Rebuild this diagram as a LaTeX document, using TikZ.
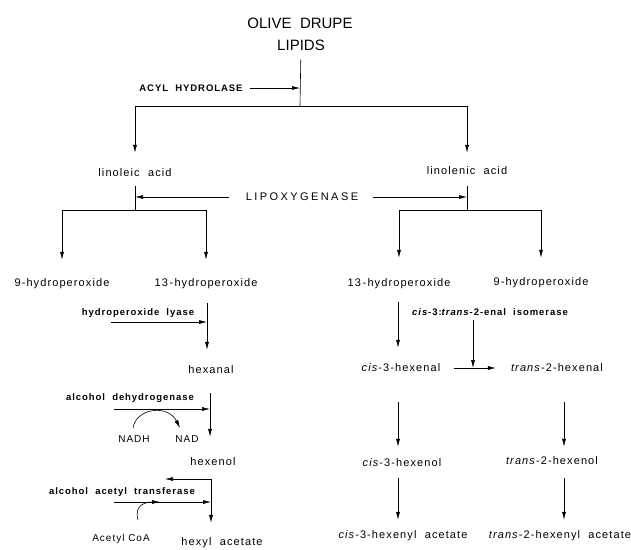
\documentclass[tikz,border=0pt]{standalone}
\usepackage{fontspec}
\setmainfont{Liberation Sans}
\newfontfamily\wide{Liberation Sans}[LetterSpace=10]
\newfontfamily\wider{Liberation Sans}[LetterSpace=22]
\usepackage{tikz}
\usetikzlibrary{arrows.meta}

\begin{document}
\begin{tikzpicture}[x=1pt,y=-1pt]
        \tikzset{txt/.style = {inner sep=0pt, text height=8pt, text depth=2pt, font=\wide\fontsize{11}{13}\selectfont}}
        \tikzset{enz/.style = {txt, font=\wide\bfseries\fontsize{9.5}{12}\selectfont}}
        \tikzset{cof/.style = {txt, font=\wide\fontsize{10}{12}\selectfont}}
        \tikzset{head/.style = {inner sep=0pt, font=\fontsize{15}{18}\selectfont}}
        \tikzset{edge/.style = {line width=0.6pt}}
        \tikzset{edged/.style = {-{Latex[length=8pt,width=4pt]}, line width=0.6pt}}
        \useasboundingbox (0,0) rectangle (631,549);
        % compounds
        \node[head] (olive) at (300,23) {OLIVE\ \ DRUPE};
        \node[head] (lipids) at (301,45) {LIPIDS};
        \node[txt] (linoleic) at (135,173) {linoleic\ \ acid};
        \node[txt] (linolenic) at (467,171) {linolenic\ \ acid};
        \node[txt] (hpo9L) at (62,283) {9-hydroperoxide};
        \node[txt] (hpo13L) at (206,283) {13\,-hydroperoxide};
        \node[txt] (hpo13R) at (399,283) {13\,-hydroperoxide};
        \node[txt] (hpo9R) at (541,282) {9-hydroperoxide};
        \node[txt] (hexanal) at (211,370) {hexanal};
        \node[txt] (hexenol) at (213,462) {hexenol};
        \node[txt] (hexylac) at (222,542) {hexyl\ \ acetate};
        \node[txt] (c3al) at (401,368) {\textit{cis}-3-hexenal};
        \node[txt] (t2al) at (557,368) {\textit{trans}-2-hexenal};
        \node[txt] (c3ol) at (402,463) {\textit{cis}-3-hexenol};
        \node[txt] (t2ol) at (552,461) {\textit{trans}-2-hexenol};
        \node[txt] (c3ac) at (403,535) {\textit{cis}-3-hexenyl\ \ acetate};
        \node[txt] (t2ac) at (560,535) {\textit{trans}-2-hexenyl\ \ acetate};
        \node[cof] (nadh) at (134,439) {NADH};
        \node[cof] (nad) at (187,439) {NAD};
        \node[cof] (acoa) at (121,538) {Acetyl\ CoA};
        % enzymes
        \node[enz] (acyl) at (191,88) {ACYL\ \ HYDROLASE};
        \node[txt, font=\wider\fontsize{11}{13}\selectfont] (lox) at (302,197) {LIPOXYGENASE};
        \node[enz] (lyase) at (138,312) {hydroperoxide\ \ lyase};
        \node[enz] (adh) at (130,397) {alcohol\ \ dehydrogenase};
        \node[enz] (aat) at (122,491) {alcohol\ \ acetyl\ \ transferase};
        \node[enz] (iso) at (490,312) {\textit{cis}-3:\textit{trans}-2-enal\ \ isomerase};
        %junctions
        \coordinate (split) at (300,106);
        \coordinate (jL) at (135,210);
        \coordinate (jR) at (467,210);
        \coordinate (lyaseIn) at (111,322);
        \coordinate (lyaseTop) at (207,303);
        \coordinate (adhIn) at (114,409);
        \coordinate (adhTop) at (210,393);
        \coordinate (nadhS) at (133,428);
        \coordinate (nadE) at (180,428);
        \coordinate (aatTop) at (211,479);
        \coordinate (aatBack) at (165,479);
        \coordinate (aatIn) at (114,502);
        \coordinate (acoaS) at (138,520);
        \coordinate (acoaE) at (160,502);
        \coordinate (isoTop) at (473,320);
        \coordinate (colC) at (398,0);
        \coordinate (colR) at (564,0);

        %edges undirected
        \draw[edge, shorten <=9pt] (lipids) -- (split);
        \draw[edge, shorten <=8pt] (linoleic) -- (jL);
        \draw[edge, shorten <=10pt] (linolenic) -- (jR);
        %edges directed
        \draw[edged, shorten <=7pt] (acyl) -- (acyl -| split);
        \draw[edged, shorten >=15pt] (split) -| (linoleic);
        \draw[edged, shorten >=13pt] (split) -| (linolenic);
        \draw[edged, shorten <=17pt] (lox) -- (lox -| linoleic);
        \draw[edged, shorten <=15pt] (lox) -- (lox -| linolenic);
        \draw[edged, shorten >=18pt] (jL) -| (hpo9L);
        \draw[edged, shorten >=18pt] (jL) -| (hpo13L);
        \draw[edged, shorten >=20pt] (jR) -| (hpo13R);
        \draw[edged, shorten >=19pt] (jR) -| (hpo9R);
        %saturated branch
        \draw[edged] (lyaseIn) -- (lyaseIn -| lyaseTop);
        \draw[edged, shorten >=15pt] (lyaseTop) -- (lyaseTop |- hexanal.north);
        \draw[edged] (adhIn) -- (adhIn -| adhTop);
        \draw[edged, shorten >=20pt] (adhTop) -- (adhTop |- hexenol.north);
        \draw[edged] (nadhS) .. controls (136,408) and (168,404) .. (nadE);
        \draw[edged] (aatTop) -- (aatBack);
        \draw[edged] (aatIn) -- (aatIn -| aatTop);
        \draw[edged, shorten >=14pt] (aatTop) -- (aatTop |- hexylac.north);
        \draw[edged] (acoaS) .. controls (134,506) and (144,502) .. (acoaE);
        %unsaturated branch
        \draw[edged, shorten <=14pt, shorten >=15pt] (colC |- hpo13R.south) -- (colC |- c3al.north);
        \draw[edged] (isoTop) -- (isoTop |- c3al);
        \draw[edged, shorten <=13pt, shorten >=15pt] (c3al) -- (t2al);
        \draw[edged, shorten <=29pt, shorten >=11pt] (colC |- c3al.south) -- (colC |- c3ol.north);
        \draw[edged, shorten <=29pt, shorten >=9pt] (colR |- t2al.south) -- (colR |- t2ol.north);
        \draw[edged, shorten <=10pt, shorten >=10pt] (colC |- c3ol.south) -- (colC |- c3ac.north);
        \draw[edged, shorten <=12pt, shorten >=10pt] (colR |- t2ol.south) -- (colR |- t2ac.north);
\end{tikzpicture}
\end{document}
